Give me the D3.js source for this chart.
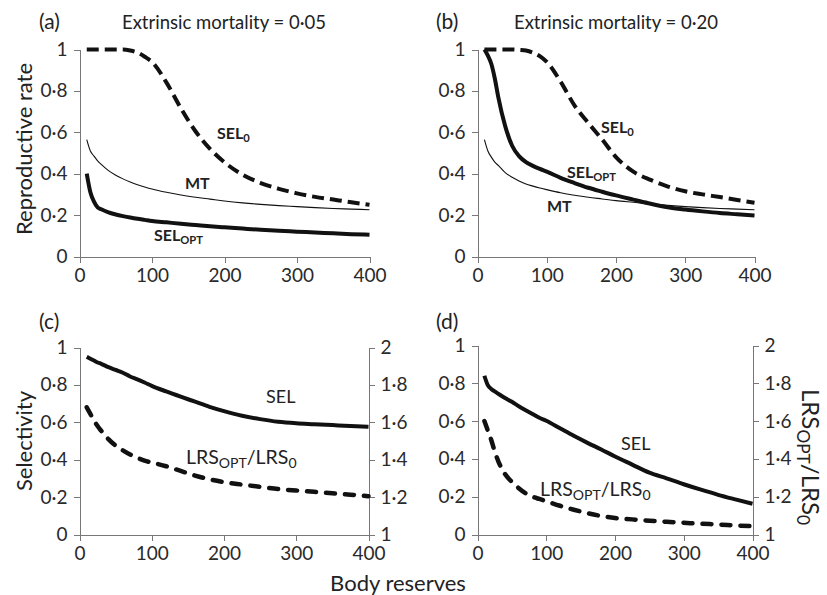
<!DOCTYPE html>
<html>
<head>
<meta charset="utf-8">
<script src="https://cdn.jsdelivr.net/npm/d3@7/dist/d3.min.js"></script>
<style>
  html, body { margin: 0; padding: 0; background: #fff; }
  svg { display: block; font-family: Lato, "Open Sans", sans-serif; }
  .axis path, .axis line { stroke: #777; stroke-width: 1; shape-rendering: crispEdges; }
  .axis text { fill: #2a2a2a; font-size: 19px; font-family: Lato, sans-serif; }
</style>
</head>
<body>
<svg id="chart" width="827" height="595"></svg>
<script>
// Body reserves grid shared by all curves
const reserves = [10, 15, 20, 25, 30, 40, 50, 60, 70, 80, 90, 100, 120, 140, 160, 180, 200, 225, 250, 275, 300, 325, 350, 375, 400];

// (a) extrinsic mortality 0·05 — reproductive rates
const aSel0 = [1.0, 1.0, 1.0, 1.0, 1.0, 1.0, 1.0, 1.0, 0.995, 0.985, 0.965, 0.94, 0.84, 0.715, 0.605, 0.52, 0.455, 0.395, 0.355, 0.327, 0.305, 0.288, 0.275, 0.262, 0.25];
const aMT   = [0.565, 0.51, 0.485, 0.462, 0.445, 0.415, 0.393, 0.375, 0.36, 0.347, 0.336, 0.326, 0.31, 0.297, 0.286, 0.277, 0.268, 0.259, 0.252, 0.246, 0.241, 0.236, 0.232, 0.229, 0.226];
const aOpt  = [0.40, 0.31, 0.265, 0.237, 0.228, 0.213, 0.203, 0.195, 0.188, 0.182, 0.177, 0.172, 0.165, 0.158, 0.152, 0.146, 0.141, 0.135, 0.129, 0.124, 0.12, 0.116, 0.112, 0.108, 0.105];

// (b) extrinsic mortality 0·20 — reproductive rates
const bSel0 = [1.0, 1.0, 1.0, 1.0, 1.0, 1.0, 1.0, 0.998, 0.995, 0.985, 0.968, 0.94, 0.845, 0.73, 0.645, 0.565, 0.48, 0.41, 0.37, 0.338, 0.315, 0.30, 0.287, 0.273, 0.26];
const bMT   = [0.565, 0.51, 0.48, 0.456, 0.44, 0.405, 0.383, 0.365, 0.35, 0.34, 0.331, 0.323, 0.308, 0.296, 0.286, 0.278, 0.27, 0.262, 0.254, 0.247, 0.241, 0.236, 0.232, 0.229, 0.226];
const bOpt  = [1.0, 0.97, 0.93, 0.86, 0.77, 0.63, 0.535, 0.485, 0.456, 0.438, 0.423, 0.41, 0.38, 0.355, 0.332, 0.313, 0.295, 0.275, 0.255, 0.238, 0.227, 0.218, 0.21, 0.204, 0.198];

// (c) selectivity and LRS ratio, mortality 0·05
const cSel = [0.95, 0.94, 0.93, 0.92, 0.913, 0.895, 0.88, 0.865, 0.845, 0.83, 0.813, 0.795, 0.765, 0.737, 0.71, 0.683, 0.66, 0.635, 0.617, 0.603, 0.595, 0.59, 0.585, 0.58, 0.576];
const cLRS = [1.68, 1.645, 1.61, 1.58, 1.555, 1.51, 1.475, 1.45, 1.428, 1.41, 1.395, 1.385, 1.365, 1.34, 1.315, 1.295, 1.28, 1.267, 1.255, 1.243, 1.235, 1.228, 1.22, 1.213, 1.205];

// (d) selectivity and LRS ratio, mortality 0·20
const dSel = [0.84, 0.79, 0.77, 0.757, 0.745, 0.722, 0.702, 0.679, 0.658, 0.638, 0.618, 0.602, 0.562, 0.522, 0.485, 0.45, 0.413, 0.37, 0.327, 0.297, 0.266, 0.237, 0.21, 0.186, 0.163];
const dLRS = [1.60, 1.55, 1.50, 1.44, 1.39, 1.32, 1.278, 1.245, 1.218, 1.2, 1.188, 1.176, 1.152, 1.131, 1.113, 1.098, 1.087, 1.08, 1.073, 1.067, 1.062, 1.057, 1.053, 1.048, 1.044];

// Tick values
const xTicks = [0, 100, 200, 300, 400];
const leftTicks = [0, 0.2, 0.4, 0.6, 0.8, 1];
const rightTicks = [1, 1.2, 1.4, 1.6, 1.8, 2];

const svg = d3.select("#chart");
const fmt = v => (Number.isInteger(v) ? String(v) : String(v).replace(".", "\u00B7"));

// Panel frames (plot area in pixels)
const panels = {
  a: { x0: 79.5, x1: 369.5, y0: 256.5, y1: 49.5 },
  b: { x0: 477.5, x1: 754.5, y0: 256.5, y1: 49.5 },
  c: { x0: 79.5, x1: 368.5, y0: 534.5, y1: 347.5 },
  d: { x0: 477.5, x1: 752.5, y0: 534.5, y1: 345.5 }
};

function makePanel(p, withRight) {
  const x = d3.scaleLinear().domain([0, 400]).range([p.x0, p.x1]);
  const y = d3.scaleLinear().domain([0, 1]).range([p.y0, p.y1]);
  svg.append("g").attr("class", "axis").attr("transform", `translate(0,${p.y0})`)
    .call(d3.axisBottom(x).tickValues(xTicks).tickFormat(fmt).tickSize(6).tickPadding(6).tickSizeOuter(0));
  svg.append("g").attr("class", "axis").attr("transform", `translate(${p.x0},0)`)
    .call(d3.axisLeft(y).tickValues(leftTicks).tickFormat(fmt).tickSize(6).tickPadding(6).tickSizeOuter(0));
  let y2 = null;
  if (withRight) {
    y2 = d3.scaleLinear().domain([1, 2]).range([p.y0, p.y1]);
    svg.append("g").attr("class", "axis").attr("transform", `translate(${p.x1},0)`)
      .call(d3.axisRight(y2).tickValues(rightTicks).tickFormat(fmt).tickSize(6).tickPadding(6).tickSizeOuter(0));
  }
  return { x, y, y2 };
}

function drawLine(x, y, values, style) {
  const line = d3.line().x((d, i) => x(reserves[i])).y(d => y(d)).curve(d3.curveMonotoneX);
  svg.append("path")
    .datum(values)
    .attr("fill", "none")
    .attr("stroke", "#111")
    .attr("stroke-width", style.width)
    .attr("stroke-dasharray", style.dash || null)
    .attr("stroke-linecap", style.cap || "butt")
    .attr("stroke-linejoin", "round")
    .attr("d", line);
}

function label(xp, yp, main, sub, opts = {}) {
  const size = opts.size || 16;
  const t = svg.append("text")
    .attr("x", xp).attr("y", yp)
    .attr("fill", "#222")
    .attr("font-size", size)
    .attr("font-weight", opts.bold ? 700 : 400);
  t.append("tspan").text(main);
  if (sub) t.append("tspan").attr("dy", size * 0.2).attr("font-size", size * 0.7).text(sub);
  return t;
}

function ratioLabel(xp, yp, size, rotate) {
  const t = svg.append("text")
    .attr("fill", "#222")
    .attr("font-size", size);
  if (rotate) t.attr("transform", `translate(${xp},${yp}) rotate(90)`);
  else t.attr("x", xp).attr("y", yp);
  const sh = size * 0.22;
  t.append("tspan").text("LRS");
  t.append("tspan").attr("dy", sh).attr("font-size", size * 0.72).text("OPT");
  t.append("tspan").attr("dy", -sh).text("/LRS");
  t.append("tspan").attr("dy", sh).attr("font-size", size * 0.72).text("0");
  return t;
}

const solid = { width: 4 };
const thin = { width: 1.1 };
const dashed = { width: 4, dash: "12,6" };
const dashedRound = { width: 4.5, dash: "9,10", cap: "round" };

// (a)
const A = makePanel(panels.a, false);
drawLine(A.x, A.y, aMT, thin);
drawLine(A.x, A.y, aOpt, solid);
drawLine(A.x, A.y, aSel0, dashed);
label(217, 139, "SEL", "0", { bold: true });
label(185, 189, "MT", null, { bold: true });
label(154, 241, "SEL", "OPT", { bold: true });

// (b)
const B = makePanel(panels.b, false);
drawLine(B.x, B.y, bMT, thin);
drawLine(B.x, B.y, bOpt, solid);
drawLine(B.x, B.y, bSel0, dashed);
label(601, 133, "SEL", "0", { bold: true });
label(567, 178, "SEL", "OPT", { bold: true });
label(547, 212, "MT", null, { bold: true });

// (c)
const C = makePanel(panels.c, true);
drawLine(C.x, C.y, cSel, solid);
drawLine(C.x, C.y2, cLRS, dashedRound);
label(266, 403, "SEL", null, { size: 18 });
ratioLabel(186, 464, 19.5, false);

// (d)
const D = makePanel(panels.d, true);
drawLine(D.x, D.y, dSel, solid);
drawLine(D.x, D.y2, dLRS, dashedRound);
label(621, 450, "SEL", null, { size: 18 });
ratioLabel(540, 496, 19.5, false);

// Panel letters and titles
const letters = [["(a)", 39, 29], ["(b)", 436, 29], ["(c)", 39, 329], ["(d)", 436, 329]];
letters.forEach(([s, xp, yp]) => svg.append("text").attr("x", xp).attr("y", yp)
  .attr("font-size", 21).attr("fill", "#222").text(s));

svg.append("text").attr("x", 224).attr("y", 29).attr("text-anchor", "middle")
  .attr("font-size", 18.5).attr("fill", "#222").text("Extrinsic mortality = 0\u00B705");
svg.append("text").attr("x", 616).attr("y", 29).attr("text-anchor", "middle")
  .attr("font-size", 18.5).attr("fill", "#222").text("Extrinsic mortality = 0\u00B720");

// Axis titles
svg.append("text").attr("transform", "translate(32,149) rotate(-90)").attr("text-anchor", "middle")
  .attr("font-size", 22).attr("fill", "#222").text("Reproductive rate");
svg.append("text").attr("transform", "translate(32,441) rotate(-90)").attr("text-anchor", "middle")
  .attr("font-size", 22).attr("fill", "#222").text("Selectivity");
svg.append("text").attr("x", 398).attr("y", 591).attr("text-anchor", "middle")
  .attr("font-size", 22).attr("fill", "#222").text("Body reserves");
ratioLabel(802, 389, 24, true);
</script>
</body>
</html>
